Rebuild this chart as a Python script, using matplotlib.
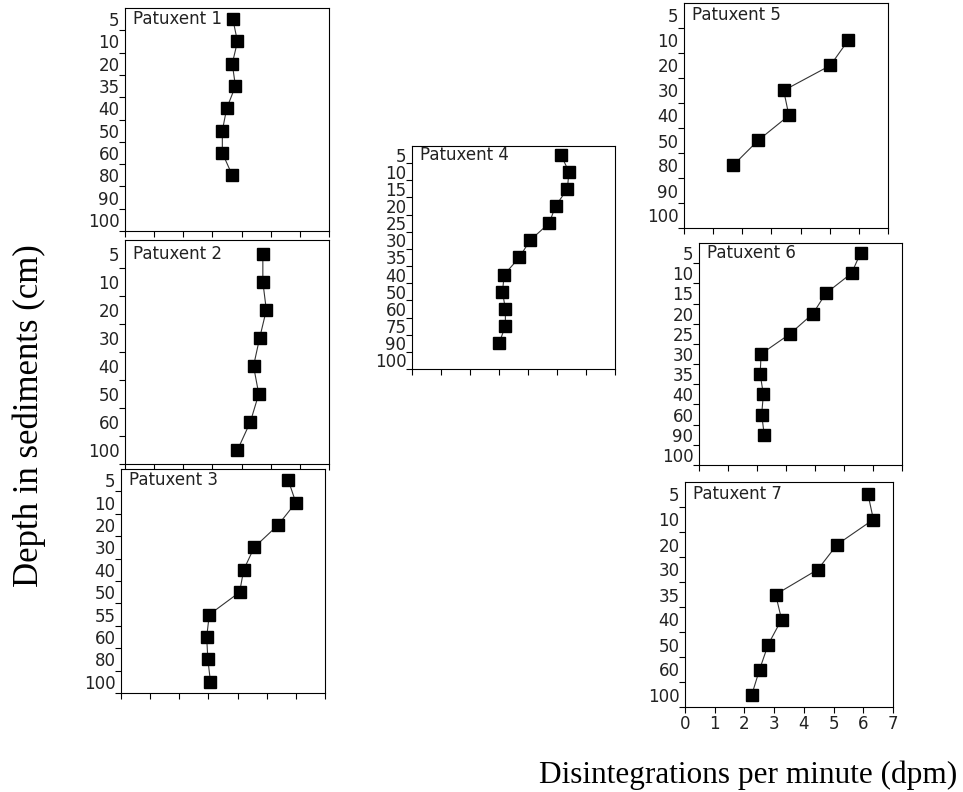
import numpy as np
import matplotlib
matplotlib.use("Agg")
import matplotlib.pyplot as plt
from matplotlib.ticker import FixedLocator, NullFormatter

W, H = 963, 792

# depth labels (cm) and activity (dpm) for each core
p1_depths = ["5", "10", "20", "35", "40", "50", "60", "80", "90", "100"]
p1_dpm = [3.70, 3.86, 3.68, 3.79, 3.49, 3.34, 3.34, 3.68]

p2_depths = ["5", "10", "20", "30", "40", "50", "60", "100"]
p2_dpm = [4.73, 4.73, 4.85, 4.62, 4.41, 4.59, 4.30, 3.86]

p3_depths = ["5", "10", "20", "30", "40", "50", "55", "60", "80", "100"]
p3_dpm = [5.74, 6.00, 5.39, 4.57, 4.21, 4.07, 3.03, 2.94, 2.98, 3.07]

p4_depths = ["5", "10", "15", "20", "25", "30", "35", "40", "50", "60", "75", "90", "100"]
p4_dpm = [5.13, 5.41, 5.36, 4.95, 4.73, 4.07, 3.70, 3.18, 3.12, 3.22, 3.22, 3.00]

p5_depths = ["5", "10", "20", "30", "40", "50", "80", "90", "100"]
p5_dpm = [np.nan, 5.63, 5.02, 3.42, 3.60, 2.54, 1.68]

p6_depths = ["5", "10", "15", "20", "25", "30", "35", "40", "60", "90", "100"]
p6_dpm = [5.57, 5.26, 4.37, 3.93, 3.14, 2.14, 2.11, 2.22, 2.16, 2.25]

p7_depths = ["5", "10", "20", "30", "35", "40", "50", "60", "100"]
p7_dpm = [6.16, 6.34, 5.12, 4.47, 3.05, 3.25, 2.80, 2.51, 2.25]

x_ticks = [0, 1, 2, 3, 4, 5, 6, 7]

# panel boxes in pixels: left, right, top, bottom
panels = [
    ("Patuxent 1", p1_depths, p1_dpm, (125, 329, 8, 231), False),
    ("Patuxent 2", p2_depths, p2_dpm, (125, 329, 240, 464), False),
    ("Patuxent 3", p3_depths, p3_dpm, (121, 325, 469, 693), False),
    ("Patuxent 4", p4_depths, p4_dpm, (412, 615, 146, 369), False),
    ("Patuxent 5", p5_depths, p5_dpm, (684, 888, 3, 228), False),
    ("Patuxent 6", p6_depths, p6_dpm, (699, 902, 243, 465), False),
    ("Patuxent 7", p7_depths, p7_dpm, (685, 893, 482, 707), True),
]

fig = plt.figure(figsize=(W / 100, H / 100), dpi=100)
fig.patch.set_facecolor("white")

for name, depths, dpm, (l, r, t, b), show_x in panels:
    ax = fig.add_axes([l / W, 1 - b / H, (r - l) / W, (b - t) / H])
    n = len(depths)
    rows = np.arange(len(dpm))
    ax.plot(dpm, rows, color="#333333", lw=0.8, marker="s", ms=8,
            mfc="black", mec="black")
    ax.set_xlim(0, 7)
    ax.set_ylim(n - 0.5, -0.5)
    ax.set_yticks(np.arange(n))
    ax.set_yticklabels(depths)
    ax.yaxis.set_minor_locator(FixedLocator(np.arange(n) + 0.5))
    ax.tick_params(axis="y", which="major", length=0, pad=4, labelsize=12,
                   labelcolor="#222222")
    ax.tick_params(axis="y", which="minor", length=4, width=0.8, direction="out")
    ax.set_xticks(x_ticks)
    ax.tick_params(axis="x", length=4, width=0.8, direction="out", labelsize=12,
                   labelcolor="#222222", pad=2)
    if not show_x:
        ax.xaxis.set_major_formatter(NullFormatter())
    for s in ax.spines.values():
        s.set_linewidth(0.8)
    ax.text(0.04, 1 - 0.5 / n, name, transform=ax.transAxes, fontsize=12,
            va="center", ha="left", color="#222222")

fig.text(29 / W, 1 - 416 / H, "Depth in sediments (cm)", rotation=90,
         va="center", ha="center", family="Liberation Serif", fontsize=25)
fig.text(748 / W, 1 - 775 / H, "Disintegrations per minute (dpm)",
         va="center", ha="center", family="Liberation Serif", fontsize=22.5)

fig.savefig("out.png", dpi=100)
